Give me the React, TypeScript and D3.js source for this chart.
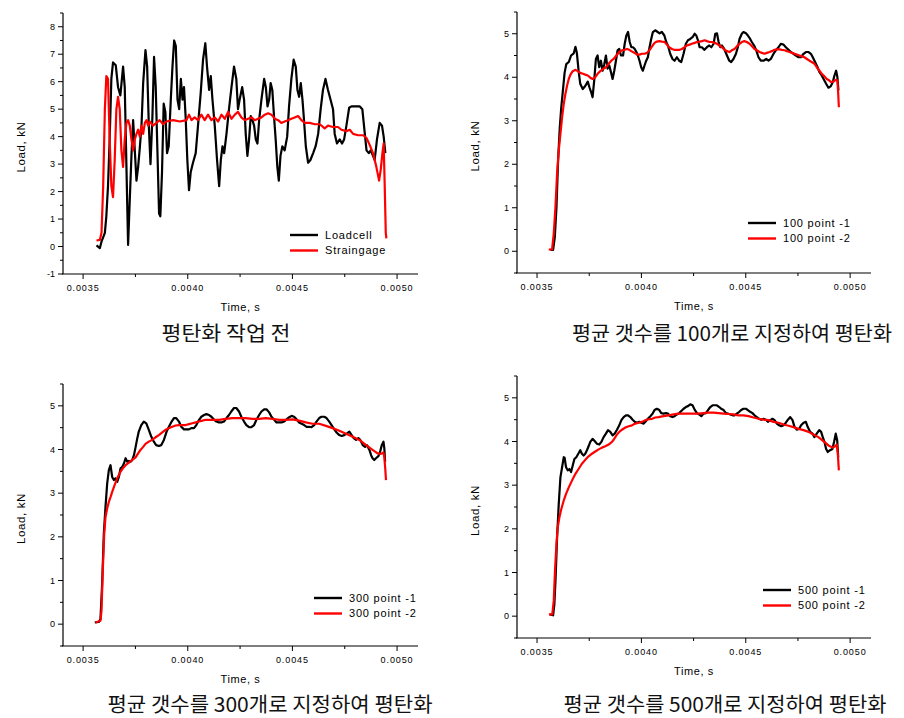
import React from "react";
import * as d3 from "d3";

// ---------- DATA (time in ms, load in kN) ----------
const xTickValues = [3.5, 4.0, 4.5, 5.0];
const xTickLabels = ["0.0035", "0.0040", "0.0045", "0.0050"];
const xMinorTicks = [3.75, 4.25, 4.75];

const captions = [
  "평탄화 작업 전",
  "평균 갯수를 100개로 지정하여 평탄화",
  "평균 갯수를 300개로 지정하여 평탄화",
  "평균 갯수를 500개로 지정하여 평탄화",
];

const legendNames = [
  ["Loadcell", "Straingage"],
  ["100 point -1", "100 point -2"],
  ["300 point -1", "300 point -2"],
  ["500 point -1", "500 point -2"],
];

const loadcellRaw: [number, number][] = [
  [3.564,0.04],[3.580,-0.06],[3.588,0.18],[3.604,0.5],[3.611,1.1],[3.619,2.2],[3.627,3.9],[3.635,6.1],[3.643,6.7],[3.656,6.6],[3.667,5.8],[3.678,5.5],[3.691,6.55],[3.699,5.8],[3.715,0.06],
  [3.723,1.7],[3.731,3.3],[3.739,4.6],[3.747,3.5],[3.755,2.4],[3.763,2.9],[3.771,3.6],[3.779,4.4],[3.787,5.95],[3.798,7.15],[3.806,6.55],[3.814,4.4],[3.822,3.0],[3.831,4.7],[3.839,6.9],[3.847,5.8],[3.855,3.5],[3.863,1.2],[3.869,1.1],[3.877,2.7],[3.885,5.2],[3.893,4.9],[3.901,3.4],[3.909,3.65],[3.919,5.35],[3.927,6.55],[3.935,7.5],[3.943,7.3],[3.951,5.35],[3.959,5.0],[3.967,6.1],[3.975,5.35],[3.982,5.8],[3.990,4.7],[3.998,3.15],[4.006,2.05],[4.014,2.7],[4.025,3.05],[4.038,3.4],[4.049,4.4],[4.062,5.6],[4.073,6.8],[4.084,7.4],[4.092,6.55],[4.102,5.7],[4.110,6.2],[4.118,5.35],[4.129,4.4],[4.140,3.15],[4.150,2.2],[4.158,3.15],[4.166,3.65],[4.174,3.4],[4.185,4.1],[4.197,5.0],[4.209,5.8],[4.221,6.55],[4.232,6.1],[4.240,5.0],[4.248,5.35],[4.260,5.8],[4.269,5.35],[4.277,4.1],[4.285,3.3],[4.293,3.9],[4.301,4.75],[4.309,4.6],[4.317,4.4],[4.325,3.9],[4.333,3.75],[4.341,4.6],[4.352,5.35],[4.365,6.1],[4.373,5.8],[4.381,5.1],[4.389,5.35],[4.396,5.95],[4.404,5.7],[4.412,4.75],[4.420,3.9],[4.428,2.9],[4.435,2.4],[4.443,3.3],[4.452,3.65],[4.463,3.5],[4.475,4.0],[4.484,5.1],[4.495,6.1],[4.506,6.8],[4.516,6.55],[4.524,5.7],[4.532,5.45],[4.540,5.95],[4.548,5.35],[4.554,4.75],[4.564,3.65],[4.575,3.05],[4.586,3.15],[4.599,3.4],[4.611,3.65],[4.623,4.1],[4.635,5.0],[4.646,5.7],[4.658,6.1],[4.670,5.7],[4.682,5.35],[4.694,5.0],[4.702,4.1],[4.713,3.75],[4.726,3.9],[4.737,3.75],[4.747,3.9],[4.758,4.4],[4.771,5.05],[4.782,5.1],[4.798,5.1],[4.822,5.1],[4.834,5.0],[4.846,4.1],[4.854,3.5],[4.865,3.4],[4.874,3.5],[4.885,3.3],[4.893,3.15],[4.904,3.9],[4.917,4.5],[4.928,4.4],[4.936,4.0],[4.944,3.4],
];

const straingageRaw: [number, number][] = [
  [3.564,0.22],[3.580,0.24],[3.588,0.5],[3.596,2.2],[3.604,5.0],[3.611,6.2],[3.619,6.1],[3.627,3.9],[3.635,2.2],[3.643,1.8],[3.651,3.15],[3.659,5.0],[3.667,5.45],[3.675,5.0],[3.683,3.5],[3.691,2.9],[3.699,3.9],[3.707,4.5],[3.715,4.6],[3.723,4.4],[3.731,3.9],[3.739,3.5],[3.747,3.9],[3.755,4.1],[3.763,4.25],[3.771,4.0],[3.779,4.4],[3.787,4.1],[3.795,4.5],[3.803,4.6],[3.811,4.4],[3.818,4.55],[3.834,4.4],[3.850,4.5],[3.866,4.6],[3.882,4.45],[3.898,4.55],[3.930,4.6],[3.962,4.55],[3.994,4.6],[4.006,4.8],[4.018,4.6],[4.033,4.7],[4.049,4.6],[4.065,4.8],[4.081,4.6],[4.097,4.8],[4.113,4.6],[4.129,4.7],[4.145,4.55],[4.161,4.8],[4.177,4.65],[4.193,4.9],[4.209,4.65],[4.225,4.8],[4.240,4.9],[4.256,4.7],[4.272,4.6],[4.288,4.65],[4.304,4.7],[4.320,4.6],[4.336,4.65],[4.352,4.7],[4.368,4.8],[4.384,4.85],[4.400,4.8],[4.416,4.65],[4.432,4.6],[4.447,4.5],[4.463,4.55],[4.479,4.6],[4.495,4.65],[4.511,4.7],[4.527,4.75],[4.543,4.6],[4.559,4.5],[4.583,4.5],[4.607,4.45],[4.631,4.45],[4.654,4.3],[4.670,4.4],[4.694,4.35],[4.718,4.35],[4.734,4.25],[4.758,4.2],[4.774,4.25],[4.790,4.1],[4.814,4.05],[4.838,4.05],[4.854,3.95],[4.869,3.7],[4.885,3.4],[4.901,2.9],[4.914,2.4],[4.922,2.8],[4.930,3.4],[4.936,3.75],[4.941,2.2],[4.946,0.5],[4.949,0.3],
];

const point100a: [number, number][] = [
  [3.564,0.03],[3.577,0.03],[3.585,0.32],[3.593,1.0],[3.601,2.1],[3.609,2.85],[3.616,3.3],[3.624,3.7],[3.632,4.1],[3.640,4.3],[3.652,4.35],[3.663,4.5],[3.676,4.55],[3.684,4.7],[3.691,4.55],[3.699,4.15],[3.707,3.85],[3.719,3.73],[3.731,3.8],[3.743,3.9],[3.751,3.77],[3.759,3.66],[3.766,3.54],[3.774,3.93],[3.782,4.42],[3.790,4.5],[3.798,4.23],[3.806,4.38],[3.814,4.15],[3.822,4.3],[3.830,4.5],[3.838,4.2],[3.846,4.27],[3.854,4.12],[3.862,3.96],[3.870,4.15],[3.878,4.38],[3.886,4.62],[3.894,4.65],[3.902,4.5],[3.912,4.5],[3.920,4.77],[3.928,4.96],[3.936,5.04],[3.944,4.81],[3.952,4.69],[3.960,4.69],[3.968,4.65],[3.976,4.58],[3.983,4.5],[3.991,4.38],[3.999,4.23],[4.007,4.15],[4.015,4.27],[4.023,4.38],[4.031,4.46],[4.039,4.69],[4.047,4.88],[4.055,5.04],[4.066,5.08],[4.078,5.04],[4.087,5.01],[4.098,5.04],[4.110,4.96],[4.119,4.81],[4.127,4.73],[4.138,4.54],[4.149,4.42],[4.159,4.38],[4.170,4.46],[4.181,4.38],[4.191,4.35],[4.202,4.54],[4.213,4.77],[4.223,4.85],[4.234,4.88],[4.245,4.92],[4.255,5.0],[4.263,4.96],[4.271,4.85],[4.279,4.69],[4.290,4.69],[4.301,4.63],[4.314,4.69],[4.325,4.73],[4.335,4.69],[4.346,4.77],[4.354,5.0],[4.362,5.01],[4.370,4.81],[4.378,4.69],[4.386,4.73],[4.397,4.65],[4.410,4.5],[4.421,4.38],[4.430,4.35],[4.441,4.42],[4.453,4.54],[4.462,4.69],[4.470,4.88],[4.481,5.0],[4.489,5.04],[4.501,5.01],[4.510,4.96],[4.521,4.88],[4.529,4.81],[4.540,4.73],[4.550,4.62],[4.561,4.46],[4.572,4.38],[4.585,4.38],[4.598,4.42],[4.609,4.38],[4.620,4.42],[4.633,4.54],[4.644,4.62],[4.657,4.69],[4.668,4.77],[4.681,4.75],[4.692,4.69],[4.705,4.63],[4.716,4.58],[4.729,4.54],[4.740,4.5],[4.753,4.46],[4.764,4.46],[4.777,4.54],[4.788,4.58],[4.801,4.58],[4.812,4.54],[4.821,4.46],[4.832,4.35],[4.844,4.23],[4.853,4.12],[4.864,4.04],[4.876,3.93],[4.885,3.85],[4.896,3.76],[4.907,3.79],[4.917,3.89],[4.925,4.04],[4.933,4.15],[4.939,4.0],[4.944,3.7],
];

const point100b: [number, number][] = [
  [3.556,0.04],[3.572,0.04],[3.580,0.4],[3.588,1.0],[3.596,1.78],[3.604,2.32],[3.612,2.7],[3.620,3.08],[3.628,3.39],[3.636,3.62],[3.644,3.81],[3.652,3.96],[3.660,4.06],[3.671,4.14],[3.684,4.17],[3.695,4.14],[3.707,4.1],[3.720,4.08],[3.731,4.06],[3.743,4.04],[3.755,3.99],[3.766,3.96],[3.779,4.0],[3.790,4.08],[3.803,4.14],[3.816,4.19],[3.830,4.23],[3.843,4.31],[3.856,4.38],[3.867,4.42],[3.880,4.5],[3.894,4.58],[3.907,4.62],[3.920,4.63],[3.931,4.65],[3.942,4.63],[3.955,4.59],[3.968,4.56],[3.979,4.52],[3.990,4.52],[4.003,4.54],[4.015,4.54],[4.027,4.56],[4.038,4.62],[4.051,4.71],[4.063,4.79],[4.074,4.82],[4.087,4.83],[4.098,4.82],[4.111,4.81],[4.122,4.75],[4.133,4.69],[4.146,4.65],[4.157,4.63],[4.170,4.63],[4.183,4.63],[4.194,4.65],[4.207,4.69],[4.218,4.73],[4.231,4.75],[4.242,4.77],[4.255,4.79],[4.266,4.81],[4.279,4.82],[4.290,4.83],[4.303,4.85],[4.314,4.83],[4.327,4.81],[4.338,4.81],[4.351,4.79],[4.362,4.77],[4.374,4.73],[4.386,4.69],[4.398,4.63],[4.410,4.6],[4.422,4.58],[4.433,4.62],[4.446,4.65],[4.457,4.71],[4.470,4.77],[4.481,4.81],[4.493,4.83],[4.505,4.81],[4.518,4.77],[4.529,4.72],[4.542,4.65],[4.553,4.62],[4.566,4.58],[4.577,4.56],[4.590,4.54],[4.601,4.56],[4.614,4.58],[4.625,4.6],[4.638,4.63],[4.649,4.64],[4.662,4.64],[4.673,4.63],[4.686,4.62],[4.697,4.6],[4.710,4.58],[4.721,4.56],[4.734,4.54],[4.745,4.52],[4.757,4.5],[4.769,4.48],[4.781,4.46],[4.793,4.42],[4.805,4.38],[4.816,4.35],[4.829,4.31],[4.840,4.23],[4.853,4.15],[4.864,4.08],[4.877,4.02],[4.888,3.96],[4.899,3.93],[4.909,3.89],[4.920,3.9],[4.931,3.94],[4.939,3.93],[4.943,3.62],[4.946,3.31],
];

const point300a: [number, number][] = [
  [3.556,0.04],[3.575,0.05],[3.583,0.12],[3.591,0.92],[3.599,2.07],[3.607,2.68],[3.615,3.22],[3.623,3.53],[3.631,3.64],[3.639,3.37],[3.647,3.3],[3.655,3.34],[3.663,3.26],[3.671,3.37],[3.679,3.57],[3.687,3.6],[3.695,3.68],[3.703,3.8],[3.711,3.72],[3.719,3.74],[3.727,3.72],[3.735,3.76],[3.743,3.87],[3.751,4.06],[3.759,4.26],[3.766,4.41],[3.778,4.56],[3.790,4.64],[3.802,4.6],[3.814,4.45],[3.826,4.29],[3.838,4.18],[3.849,4.1],[3.862,4.08],[3.873,4.1],[3.886,4.22],[3.899,4.41],[3.910,4.52],[3.923,4.64],[3.934,4.72],[3.945,4.72],[3.958,4.64],[3.969,4.52],[3.982,4.46],[3.993,4.46],[4.006,4.46],[4.017,4.49],[4.030,4.49],[4.041,4.56],[4.054,4.68],[4.065,4.75],[4.078,4.79],[4.089,4.81],[4.102,4.79],[4.113,4.75],[4.126,4.68],[4.137,4.64],[4.149,4.62],[4.161,4.62],[4.173,4.64],[4.185,4.72],[4.197,4.79],[4.208,4.87],[4.221,4.95],[4.232,4.95],[4.245,4.87],[4.256,4.75],[4.269,4.64],[4.280,4.56],[4.293,4.51],[4.304,4.51],[4.317,4.56],[4.328,4.68],[4.341,4.79],[4.352,4.87],[4.365,4.92],[4.376,4.92],[4.389,4.85],[4.400,4.75],[4.413,4.68],[4.424,4.62],[4.437,4.62],[4.448,4.62],[4.461,4.64],[4.472,4.69],[4.485,4.74],[4.496,4.77],[4.508,4.75],[4.520,4.69],[4.532,4.62],[4.544,4.59],[4.556,4.56],[4.568,4.52],[4.580,4.52],[4.591,4.51],[4.604,4.56],[4.615,4.64],[4.628,4.72],[4.639,4.75],[4.652,4.75],[4.663,4.72],[4.676,4.64],[4.687,4.56],[4.700,4.46],[4.711,4.39],[4.724,4.33],[4.735,4.31],[4.748,4.33],[4.761,4.37],[4.772,4.41],[4.783,4.33],[4.793,4.26],[4.804,4.22],[4.815,4.26],[4.824,4.22],[4.836,4.1],[4.847,4.06],[4.856,4.1],[4.868,3.99],[4.876,3.87],[4.883,3.8],[4.891,3.76],[4.899,3.8],[4.911,3.85],[4.919,3.95],[4.927,4.1],[4.935,4.18],[4.939,4.03],[4.943,3.72],
];

const point300b: [number, number][] = [
  [3.559,0.04],[3.583,0.08],[3.588,0.31],[3.594,1.23],[3.601,2.07],[3.607,2.45],[3.615,2.65],[3.623,2.8],[3.631,2.91],[3.639,3.03],[3.650,3.18],[3.663,3.34],[3.676,3.47],[3.690,3.57],[3.703,3.64],[3.719,3.7],[3.735,3.76],[3.751,3.82],[3.763,3.91],[3.774,3.99],[3.787,4.06],[3.798,4.13],[3.814,4.18],[3.830,4.22],[3.846,4.28],[3.862,4.33],[3.878,4.39],[3.894,4.45],[3.910,4.49],[3.926,4.52],[3.942,4.55],[3.958,4.56],[3.974,4.56],[3.990,4.56],[4.006,4.58],[4.022,4.6],[4.038,4.62],[4.054,4.64],[4.070,4.66],[4.086,4.68],[4.118,4.68],[4.149,4.68],[4.181,4.7],[4.213,4.72],[4.245,4.72],[4.277,4.72],[4.309,4.7],[4.341,4.7],[4.373,4.72],[4.405,4.7],[4.437,4.68],[4.469,4.68],[4.501,4.69],[4.532,4.66],[4.564,4.62],[4.596,4.59],[4.628,4.59],[4.660,4.54],[4.692,4.49],[4.724,4.43],[4.756,4.36],[4.788,4.29],[4.820,4.22],[4.852,4.1],[4.883,3.99],[4.907,3.91],[4.923,3.9],[4.935,3.93],[4.939,3.83],[4.944,3.53],[4.947,3.3],
];

const point500a: [number, number][] = [
  [3.561,0.04],[3.577,0.02],[3.583,0.27],[3.589,0.88],[3.596,1.8],[3.604,2.57],[3.612,3.18],[3.620,3.41],[3.628,3.64],[3.632,3.63],[3.639,3.41],[3.647,3.34],[3.655,3.37],[3.663,3.3],[3.671,3.45],[3.679,3.6],[3.688,3.64],[3.699,3.73],[3.707,3.8],[3.715,3.72],[3.723,3.68],[3.731,3.72],[3.739,3.8],[3.747,3.89],[3.755,3.99],[3.766,4.06],[3.776,4.01],[3.787,3.95],[3.798,3.93],[3.808,3.99],[3.819,4.1],[3.830,4.18],[3.840,4.26],[3.851,4.22],[3.862,4.14],[3.872,4.18],[3.883,4.27],[3.894,4.37],[3.904,4.49],[3.915,4.56],[3.926,4.6],[3.936,4.6],[3.947,4.56],[3.958,4.5],[3.968,4.45],[3.979,4.43],[3.990,4.45],[3.999,4.43],[4.011,4.41],[4.022,4.47],[4.031,4.52],[4.043,4.58],[4.054,4.64],[4.063,4.72],[4.074,4.75],[4.086,4.72],[4.095,4.65],[4.106,4.64],[4.118,4.65],[4.127,4.64],[4.138,4.58],[4.149,4.56],[4.159,4.58],[4.170,4.62],[4.181,4.65],[4.191,4.7],[4.202,4.75],[4.213,4.79],[4.223,4.81],[4.234,4.85],[4.245,4.83],[4.255,4.73],[4.266,4.65],[4.277,4.62],[4.287,4.58],[4.298,4.64],[4.309,4.65],[4.319,4.72],[4.330,4.79],[4.341,4.83],[4.351,4.83],[4.362,4.83],[4.373,4.79],[4.382,4.75],[4.394,4.72],[4.405,4.65],[4.414,4.64],[4.426,4.62],[4.437,4.6],[4.446,4.6],[4.457,4.64],[4.469,4.68],[4.478,4.72],[4.489,4.75],[4.501,4.75],[4.510,4.72],[4.521,4.68],[4.532,4.65],[4.542,4.6],[4.553,4.56],[4.564,4.52],[4.574,4.5],[4.585,4.52],[4.596,4.5],[4.606,4.45],[4.617,4.49],[4.628,4.52],[4.638,4.49],[4.649,4.41],[4.660,4.37],[4.670,4.35],[4.681,4.37],[4.692,4.43],[4.702,4.5],[4.713,4.56],[4.724,4.49],[4.734,4.33],[4.745,4.27],[4.756,4.29],[4.765,4.37],[4.777,4.43],[4.788,4.45],[4.797,4.33],[4.809,4.22],[4.820,4.18],[4.829,4.1],[4.840,4.18],[4.852,4.26],[4.861,4.22],[4.869,4.1],[4.877,3.99],[4.885,3.83],[4.893,3.76],[4.904,3.8],[4.915,3.83],[4.923,3.99],[4.931,4.18],[4.938,4.03],[4.943,3.64],
];

const point500b: [number, number][] = [
  [3.557,0.04],[3.573,0.04],[3.580,0.35],[3.586,1.04],[3.593,1.65],[3.599,2.03],[3.607,2.26],[3.616,2.45],[3.628,2.65],[3.639,2.8],[3.652,2.95],[3.668,3.11],[3.684,3.26],[3.699,3.37],[3.715,3.49],[3.731,3.58],[3.747,3.66],[3.763,3.72],[3.779,3.77],[3.795,3.82],[3.811,3.86],[3.827,3.89],[3.843,3.93],[3.859,3.99],[3.867,4.04],[3.875,4.1],[3.883,4.16],[3.894,4.22],[3.907,4.27],[3.923,4.32],[3.939,4.35],[3.955,4.37],[3.971,4.41],[3.987,4.43],[4.003,4.45],[4.019,4.49],[4.035,4.51],[4.051,4.52],[4.066,4.55],[4.082,4.56],[4.106,4.58],[4.130,4.6],[4.154,4.62],[4.178,4.64],[4.202,4.64],[4.226,4.64],[4.250,4.64],[4.274,4.64],[4.298,4.65],[4.322,4.66],[4.346,4.66],[4.370,4.65],[4.394,4.64],[4.418,4.63],[4.441,4.62],[4.465,4.6],[4.489,4.6],[4.513,4.58],[4.537,4.55],[4.561,4.52],[4.585,4.5],[4.609,4.49],[4.633,4.45],[4.657,4.43],[4.681,4.39],[4.705,4.36],[4.729,4.33],[4.753,4.29],[4.777,4.26],[4.801,4.22],[4.824,4.16],[4.848,4.1],[4.872,4.01],[4.896,3.91],[4.917,3.86],[4.928,3.89],[4.936,3.93],[4.941,3.72],[4.946,3.34],
];

const seriesByPanel = [
  [loadcellRaw, straingageRaw],
  [point100a, point100b],
  [point300a, point300b],
  [point500a, point500b],
];
const yDomains: [number, number][] = [[-1, 8.5], [-0.5, 5.5], [-0.5, 5.5], [-0.5, 5.5]];
const yTickSets = [
  [-1, 0, 1, 2, 3, 4, 5, 6, 7, 8],
  [0, 1, 2, 3, 4, 5],
  [0, 1, 2, 3, 4, 5],
  [0, 1, 2, 3, 4, 5],
];

// ---------- LAYOUT ----------
const layout = [
  { left: 63, right: 418, top: 13, bottom: 274, legX: 290, legY: 235, capX: 226, capY: 341, capW: 129 },
  { left: 517, right: 871, top: 12, bottom: 273, legX: 748, legY: 223, capX: 732, capY: 341, capW: 320 },
  { left: 63, right: 418, top: 384, bottom: 646, legX: 314, legY: 598, capX: 270, capY: 712, capW: 325 },
  { left: 517, right: 871, top: 376, bottom: 638, legX: 763, legY: 590, capX: 725, capY: 712, capW: 323 },
];

const colors = ["#000000", "#ff0000"];
const FONT = "'Liberation Sans', Arial, sans-serif";

function Panel({ idx }: { idx: number }) {
  const L = layout[idx];
  const x = d3.scaleLinear().domain([3.404, 5.1]).range([L.left, L.right]);
  const y = d3.scaleLinear().domain(yDomains[idx]).range([L.bottom, L.top]);
  const line = d3
    .line<[number, number]>()
    .x((d) => x(d[0]))
    .y((d) => y(d[1]));
  const [y0, y1] = yDomains[idx];
  const yMinor: number[] = [];
  for (let v = Math.ceil(y0 * 2) / 2; v <= y1 + 1e-9; v += 0.5) {
    if (Math.abs(v - Math.round(v)) > 0.01) yMinor.push(v);
  }
  const cy = (L.top + L.bottom) / 2 + 3.5;
  return (
    <g>
      {/* axes */}
      <line x1={L.left} x2={L.left} y1={L.top} y2={L.bottom} stroke="#000" strokeWidth={1.2} />
      <line x1={L.left - 1} x2={L.right} y1={L.bottom} y2={L.bottom} stroke="#000" strokeWidth={1.2} />
      {yTickSets[idx].map((v) => (
        <g key={"yt" + v}>
          <line x1={L.left - 5} x2={L.left} y1={y(v)} y2={y(v)} stroke="#000" strokeWidth={1} />
          <text x={L.left - 8} y={y(v)} dy="0.35em" textAnchor="end" fontSize={9} fontFamily={FONT} fill="#000">
            {v}
          </text>
        </g>
      ))}
      {yMinor.map((v) => (
        <line key={"ym" + v} x1={L.left - 3} x2={L.left} y1={y(v)} y2={y(v)} stroke="#000" strokeWidth={1} />
      ))}
      {xTickValues.map((v, i) => (
        <g key={"xt" + v}>
          <line x1={x(v)} x2={x(v)} y1={L.bottom} y2={L.bottom + 5} stroke="#000" strokeWidth={1} />
          <text x={x(v)} y={L.bottom + 17} textAnchor="middle" fontSize={9} letterSpacing={0.9} fontFamily={FONT} fill="#000">
            {xTickLabels[i]}
          </text>
        </g>
      ))}
      {xMinorTicks.map((v) => (
        <line key={"xm" + v} x1={x(v)} x2={x(v)} y1={L.bottom} y2={L.bottom + 3} stroke="#000" strokeWidth={1} />
      ))}
      <text
        x={(L.left + L.right) / 2}
        y={L.bottom + 37}
        textAnchor="middle"
        fontSize={11}
        letterSpacing={0.6}
        fontFamily={FONT}
        fill="#000"
      >
        Time, s
      </text>
      <text
        transform={`translate(${L.left - 38},${cy}) rotate(-90)`}
        textAnchor="middle"
        fontSize={11.5}
        letterSpacing={0.6}
        fontFamily={FONT}
        fill="#000"
      >
        Load, kN
      </text>
      {/* series */}
      {seriesByPanel[idx].map((s, si) => (
        <path key={"s" + si} d={line(s) || ""} fill="none" stroke={colors[si]} strokeWidth={2.2} strokeLinejoin="round" />
      ))}
      {/* legend */}
      {legendNames[idx].map((name, si) => (
        <g key={"lg" + si}>
          <line
            x1={L.legX}
            x2={L.legX + 28}
            y1={L.legY + si * 15.5}
            y2={L.legY + si * 15.5}
            stroke={colors[si]}
            strokeWidth={2.4}
          />
          <text
            x={L.legX + 35}
            y={L.legY + si * 15.5}
            dy="0.36em"
            fontSize={11}
            letterSpacing={0.8}
            fontFamily={FONT}
            fill="#000"
          >
            {name}
          </text>
        </g>
      ))}
      {/* caption */}
      <text
        x={L.capX}
        y={L.capY}
        textAnchor="middle"
        fontSize={20}
        fontFamily="'Noto Sans CJK KR', sans-serif"
        fill="#111"
        textLength={L.capW}
        lengthAdjust="spacingAndGlyphs"
      >
        {captions[idx]}
      </text>
    </g>
  );
}

export default function App() {
  return (
    <svg
      width={904}
      height={718}
      viewBox="0 0 904 718"
      style={{ position: "absolute", left: 0, top: 0, background: "#fff" }}
    >
      <rect width={904} height={718} fill="#fff" />
      {[0, 1, 2, 3].map((i) => (
        <Panel key={i} idx={i} />
      ))}
    </svg>
  );
}
